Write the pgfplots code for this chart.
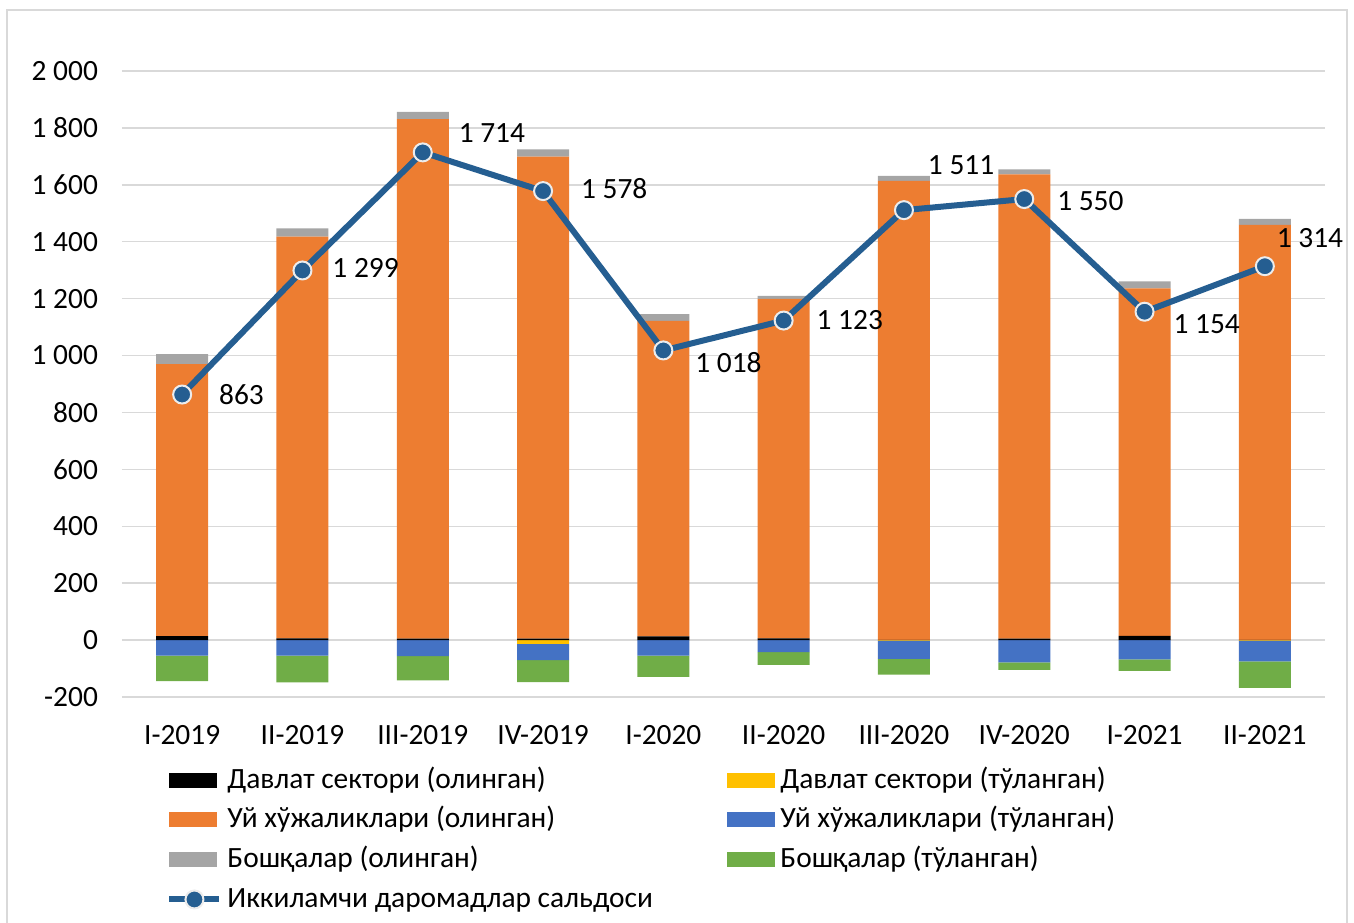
\documentclass[border=0pt]{standalone}
\usepackage{pgfplots}
\pgfplotsset{compat=1.18}
\usepackage{fontspec}
\setmainfont{Carlito}
\definecolor{cBlack}{HTML}{000000}
\definecolor{cYellow}{HTML}{FFC000}
\definecolor{cOrange}{HTML}{ED7D31}
\definecolor{cBlue}{HTML}{4472C4}
\definecolor{cGray}{HTML}{A5A5A5}
\definecolor{cGreen}{HTML}{70AD47}
\definecolor{cLine}{HTML}{255E91}
\definecolor{cGrid}{HTML}{D9D9D9}
\definecolor{cBorder}{HTML}{D9D9D9}
\newcommand{\lf}{\fontsize{14.7}{16.5}\selectfont}

\pgfplotstableread{
x black orange gray
0 14 956 35
1 6 1412 29
2 5 1826 25
3 5 1694 26
4 13 1109 24
5 6 1193 11
6 1 1613 17
7 5 1632 17
8 15 1221 25
9 1 1458 21
}\pos
\pgfplotstableread{
x yellow blue green
0 0 -55 -89
1 0 -55 -94
2 0 -56 -86
3 -13 -57 -78
4 0 -55 -74
5 0 -42 -45
6 -2 -64 -55
7 0 -78 -27
8 0 -68 -40
9 -2 -73 -93
}\neg
\pgfplotstableread{
x y dx dy
0 863 18 0
1 1299 14.5 1.5
2 1714 17.5 9.5
3 1578 18.5 1.5
4 1018 15.5 -6
5 1123 16 0
6 1511 11.5 22.5
7 1550 16 -1
8 1154 14 -6
9 1314 5.5 14
}\saldo

\pgfplotsset{
  base/.style={
    scale only axis, width=601.5pt, height=313pt,
    at={(61pt,112.5pt)}, anchor=south west,
    xmin=-0.5, xmax=9.5, ymin=-200, ymax=2000,
    axis line style={draw=none}, major tick length=0pt,
    clip=false,
    /pgf/number format/1000 sep={\ },
    /pgf/number format/assume math mode=true,
  },
  boxleg/.style={legend image code/.code={\fill[##1, draw=none] (0pt,-3.75pt) rectangle (24pt,3.75pt);}},
}

\begin{document}
\begin{tikzpicture}
\useasboundingbox (0pt,0pt) rectangle (677pt,461pt);
\draw[cBorder, line width=1pt] (3.5pt,-10pt) rectangle (673.5pt,456pt);

% axis A: grid, ticks, negative bars
\begin{axis}[base,
  ybar stacked, bar width=26pt,
  ytick={-200,0,200,...,2000},
  ymajorgrids, grid style={draw=cGrid, line width=0.75pt},
  xtick={0,...,9},
  xticklabels={I-2019,II-2019,III-2019,IV-2019,I-2020,II-2020,III-2020,IV-2020,I-2021,II-2021},
  tick label style={font=\lf, text=black},
  yticklabel style={xshift=-8.5pt},
  xticklabel style={yshift=-10.5pt},
]
\addplot[fill=cYellow, draw=none] table[x=x, y=yellow] {\neg};
\addplot[fill=cBlue, draw=none] table[x=x, y=blue] {\neg};
\addplot[fill=cGreen, draw=none] table[x=x, y=green] {\neg};
\end{axis}

% axis B: positive bars
\begin{axis}[base,
  ybar stacked, bar width=26pt,
  xtick=\empty, ytick=\empty,
]
\addplot[fill=cBlack, draw=none] table[x=x, y=black] {\pos};
\addplot[fill=cOrange, draw=none] table[x=x, y=orange] {\pos};
\addplot[fill=cGray, draw=none] table[x=x, y=gray] {\pos};
\end{axis}

% axis C: line, labels, legend
\begin{axis}[base,
  xtick=\empty, ytick=\empty,
  legend columns=2,
  legend cell align=left,
  legend style={draw=none, fill=none, font=\lf, at={(0.0366,-0.1065)}, anchor=north west,
    inner sep=0pt, row sep=3.9pt,
    nodes={inner ysep=1pt, inner xsep=2.5pt, text height=11pt, text depth=3pt},
    /tikz/every even column/.append style={column sep=0pt}},
]
\addlegendimage{boxleg, fill=cBlack}
\addlegendentry{\makebox[247.5pt][l]{Давлат сектори (олинган)}}
\addlegendimage{boxleg, fill=cYellow}
\addlegendentry{Давлат сектори (тўланган)}
\addlegendimage{boxleg, fill=cOrange}
\addlegendentry{Уй хўжаликлари (олинган)}
\addlegendimage{boxleg, fill=cBlue}
\addlegendentry{Уй хўжаликлари (тўланган)}
\addlegendimage{boxleg, fill=cGray}
\addlegendentry{Бошқалар (олинган)}
\addlegendimage{boxleg, fill=cGreen}
\addlegendentry{Бошқалар (тўланган)}
\addlegendimage{legend image code/.code={\draw[cLine, line width=3pt] (0pt,0pt) -- (25pt,0pt); \fill[cLine, draw=white!85!gray, line width=1pt] (12.5pt,0pt) circle (4.5pt);}}
\addlegendentry{Иккиламчи даромадлар сальдоси}

\addplot[color=cLine, line width=3pt, mark=*, mark size=4.5pt,
  mark options={fill=cLine, draw=white!85!gray, line width=1pt},
  forget plot,
  point meta=explicit,
  visualization depends on={\thisrow{dx} \as \dx},
  visualization depends on={\thisrow{dy} \as \dy},
  nodes near coords,
  nodes near coords style={anchor=west, inner sep=0pt, xshift=\dx pt, yshift=\dy pt, font=\lf, text=black},
] table[x=x, y=y, meta=y] {\saldo};
\end{axis}
\end{tikzpicture}
\end{document}
